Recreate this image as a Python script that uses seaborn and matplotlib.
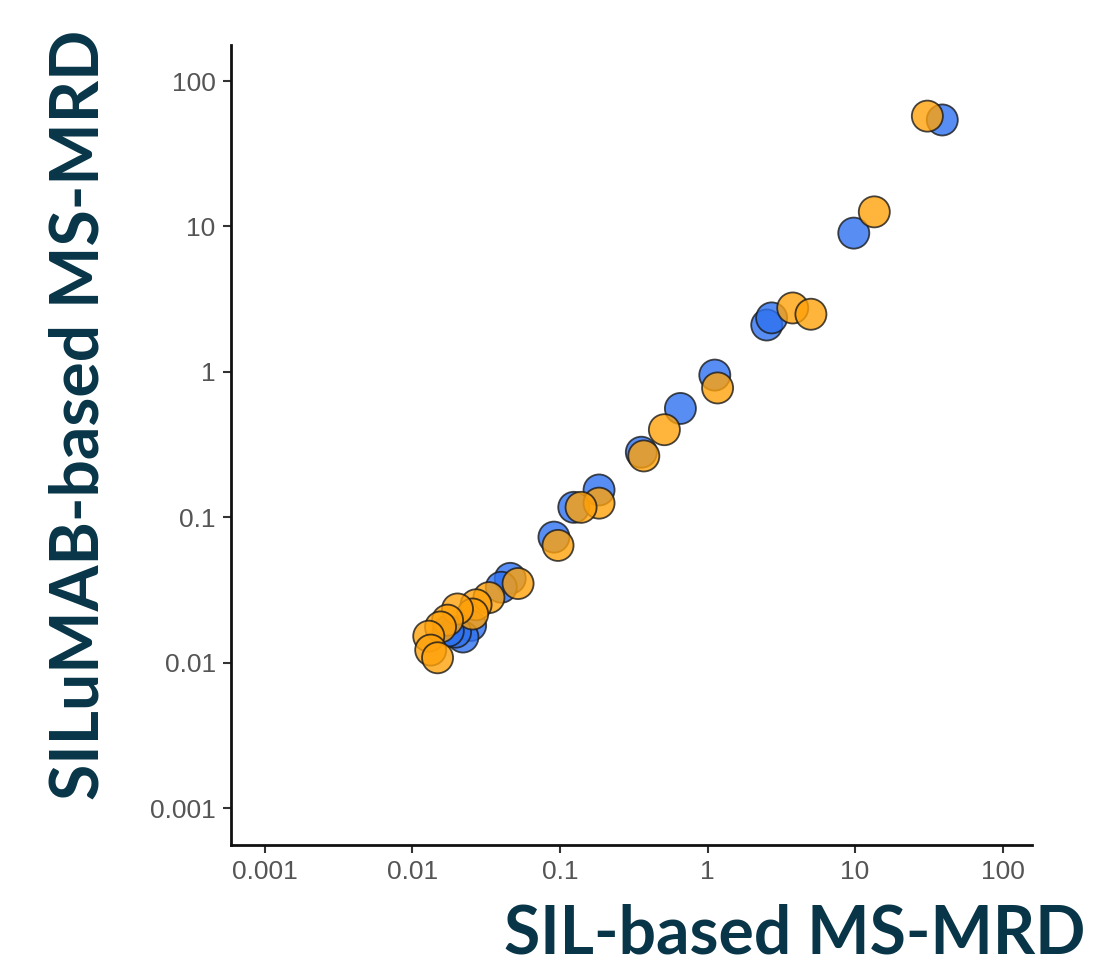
import numpy as np
import pandas as pd
import matplotlib
matplotlib.use("Agg")
import matplotlib.pyplot as plt
import seaborn as sns

# values (log-log scatter)
blue_x = [39, 9.8, 2.52, 2.72, 1.12, 0.655, 0.356, 0.184, 0.124, 0.091,
          0.046, 0.040, 0.0248, 0.022, 0.0196, 0.0175]
blue_y = [54, 9.0, 2.1, 2.35, 0.95, 0.56, 0.28, 0.154, 0.117, 0.073,
          0.038, 0.033, 0.018, 0.015, 0.0162, 0.0165]
orange_x = [30.9, 13.5, 3.78, 5.02, 1.17, 0.51, 0.37, 0.184, 0.139, 0.097,
            0.052, 0.033, 0.027, 0.0256, 0.0202, 0.0173, 0.0155, 0.0129,
            0.0133, 0.0148]
orange_y = [57.4, 12.6, 2.75, 2.49, 0.775, 0.40, 0.264, 0.125, 0.117, 0.064,
            0.035, 0.028, 0.025, 0.0216, 0.0234, 0.0196, 0.0176, 0.0152,
            0.0122, 0.0108]

tick_vals = [0.001, 0.01, 0.1, 1, 10, 100]
tick_labels = ["0.001", "0.01", "0.1", "1", "10", "100"]

df = pd.DataFrame({
    "x": blue_x + orange_x,
    "y": blue_y + orange_y,
    "group": ["blue"] * len(blue_x) + ["orange"] * len(orange_x),
})

sns.set_style("ticks")
plt.rcParams["font.family"] = ["Liberation Sans", "DejaVu Sans"]

fig = plt.figure(figsize=(10.93, 9.72), dpi=100)
ax = fig.add_axes([0.2113, 0.1307, 0.733, 0.823])

sns.scatterplot(data=df, x="x", y="y", hue="group",
                palette={"blue": "#2E72F0", "orange": "#FFA10A"},
                s=500, alpha=0.8, edgecolor="#1a1a1a", linewidth=1.3,
                legend=False, ax=ax)

ax.set_xscale("log")
ax.set_yscale("log")
ax.set_xlim(10 ** -3.23, 10 ** 2.20)
ax.set_ylim(10 ** -3.254, 10 ** 2.248)
ax.set_xticks(tick_vals)
ax.set_xticklabels(tick_labels)
ax.set_yticks(tick_vals)
ax.set_yticklabels(tick_labels)
ax.minorticks_off()
ax.tick_params(axis="both", labelsize=19, colors="#333333", labelcolor="#555555",
               length=6, width=1.5, pad=5)

sns.despine(ax=ax)
for side in ["left", "bottom"]:
    ax.spines[side].set_linewidth(2)
    ax.spines[side].set_color("#111111")

label_font = dict(family=["Lato", "DejaVu Sans"], fontweight="bold",
                  fontsize=47.5, color="#083547")
ax.set_xlabel("SIL-based MS-MRD", ha="right", va="center", **label_font)
ax.xaxis.set_label_coords(1.066, -0.112)
ax.set_ylabel("SILuMAB-based MS-MRD", va="center", **label_font)
ax.yaxis.set_label_coords(-0.189, 0.5375)

fig.savefig("out.png", dpi=100)
